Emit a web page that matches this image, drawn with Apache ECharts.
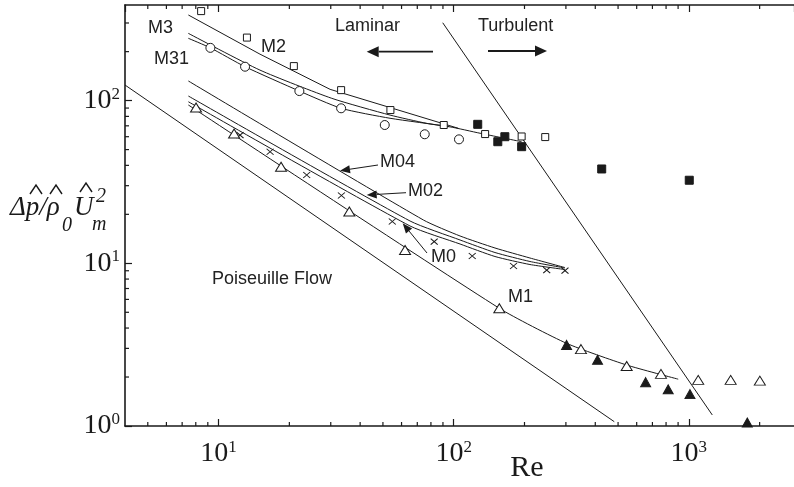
<!DOCTYPE html>
<html>
<head>
<meta charset="utf-8">
<script src="https://cdn.jsdelivr.net/npm/echarts@6/dist/echarts.min.js"></script>
<style>
html, body { margin: 0; padding: 0; background: #fff; }
#chart { width: 794px; height: 487px; }
</style>
</head>
<body>
<div id="chart"></div>
<script>
// measured points, [Re, dp/(rho U^2)]
const squaresOpen = [[8.43,355],[13.2,244],[20.9,163],[33.2,116],[53.8,87.5],[90.7,70.8],[136,62.3],[194.5,60.2],[245,59.7]];
const squaresFilled = [[126.5,71.5],[154,55.9],[165,60],[194.5,52.1],[426,38.0],[1004,32.4]];
const circlesOpen = [[9.23,211],[12.96,161.6],[22.06,114.5],[33.2,89.7],[50.9,70.8],[75.3,62.1],[105.3,57.8]];
const crosses = [[12.34,61.4],[16.56,48.5],[23.7,34.9],[33.3,26.1],[54.8,18.07],[82.6,13.58],[119.9,11.09],[179.6,9.62],[248.6,9.09],[297.3,9.01]];
const trianglesOpen = [[8.02,90.7],[11.64,62.8],[18.44,39.2],[35.98,20.8],[62.1,12.07],[156.3,5.29],[347.7,2.97],[544,2.34],[761,2.09],[1096,1.92],[1506,1.92],[2004,1.90]];
const trianglesFilled = [[302,3.15],[409,2.55],[655,1.86],[817,1.68],[1011,1.57],[1772,1.05]];

// computed curves
const upper1 = [[7.44,336],[15.0,193],[29.8,117.3],[104.6,67.6]];
const upper2 = [[7.44,259],[15.0,154],[30.3,103.3],[53.6,81.5],[76.7,72.5],[95.8,69.1]];
const upper3 = [[7.44,241.5],[9.23,211],[12.96,161.6],[22.06,114.5],[33.2,89.7],[53.6,77.9],[95.8,69.1],[129.5,63],[194.5,55.9]];
const lineM04 = [[7.44,132],[74.3,18.46],[106.4,14.72],[149.8,12.42],[211,10.78],[297,9.42]];
const lineM02 = [[7.44,106.7],[65.2,18.2],[106.4,13.91],[149.8,11.65],[211,10.26],[297,9.36]];
const lineM0 = [[7.44,98.4],[65.2,16.96],[106.4,13.14],[149.8,11.01],[211,9.83],[297,9.16]];
const lineM1 = [[7.44,94.0],[156.3,5.29],[302.3,3.22],[544,2.37],[901,1.94]];
const poiseuille = [[4,124.7],[481.7,1.063]];
const transition = [[89.8,301],[1258,1.169]];

const xMinor = [5,6,7,8,9,20,30,40,50,60,70,80,90,200,300,400,500,600,700,800,900,2000];
const yMinor = [2,3,4,5,6,7,8,9,20,30,40,50,60,70,80,90,200,300];

const ink = '#1a1a1a';
const chart = echarts.init(document.getElementById('chart'));

function powLabel(v) {
  const l = Math.log10(v);
  const e = Math.round(l);
  if (Math.abs(l - e) > 1e-6) return '';
  return '{b|10}{s|' + e + '}';
}
const labelRich = {
  b: { fontFamily: 'Liberation Serif', fontSize: 28, lineHeight: 30, color: ink },
  s: { fontFamily: 'Liberation Serif', fontSize: 17, lineHeight: 6, verticalAlign: 'top', color: ink }
};

function curve(data, smooth) {
  return { type: 'line', data: data, symbol: 'none', smooth: smooth || false,
    lineStyle: { color: ink, width: 1 }, silent: true, z: 2 };
}
function dots(data, symbol, size, fill) {
  return { type: 'scatter', data: data, symbol: symbol, symbolSize: size, silent: true, z: 3,
    itemStyle: { color: fill, borderColor: ink, borderWidth: 1, opacity: 1 } };
}
function minorTicks(values, dir) {
  return {
    type: 'custom', silent: true, z: 4,
    data: values.map(function (v) { return dir === 'x' ? [v, 1] : [4, v]; }),
    renderItem: function (params, api) {
      const cs = params.coordSys;
      const st = { stroke: ink, lineWidth: 1.2 };
      if (dir === 'x') {
        const px = api.coord([api.value(0), 1])[0];
        const b = cs.y + cs.height;
        return { type: 'group', children: [
          { type: 'line', shape: { x1: px, y1: b, x2: px, y2: b - 4 }, style: st },
          { type: 'line', shape: { x1: px, y1: cs.y, x2: px, y2: cs.y + 4 }, style: st }
        ] };
      }
      const py = api.coord([4, api.value(1)])[1];
      return { type: 'line', shape: { x1: cs.x, y1: py, x2: cs.x + 4, y2: py }, style: st };
    }
  };
}

function arrow(x1, y1, x2, y2, w, hl, hw) {
  const dx = x2 - x1, dy = y2 - y1, len = Math.hypot(dx, dy);
  const ux = dx / len, uy = dy / len;
  const bx = x2 - ux * hl, by = y2 - uy * hl;
  return [
    { type: 'line', silent: true, shape: { x1: x1, y1: y1, x2: bx, y2: by }, style: { stroke: ink, lineWidth: w } },
    { type: 'polygon', silent: true, shape: { points: [[x2, y2], [bx - uy * hw, by + ux * hw], [bx + uy * hw, by - ux * hw]] }, style: { fill: ink } }
  ];
}
function label(text, x, y) {
  return { type: 'text', silent: true, style: { text: text, x: x, y: y, fill: '#222',
    font: '18px "Liberation Sans", Arial, sans-serif', verticalAlign: 'middle', align: 'left' } };
}
function hat(cx, yb) {
  return { type: 'polyline', silent: true, shape: { points: [[cx - 6, yb], [cx, yb - 9], [cx + 6, yb]] },
    style: { stroke: ink, lineWidth: 1.4, fill: null } };
}
function ital(text, x, y, size) {
  return { type: 'text', silent: true, style: { text: text, x: x, y: y, fill: ink,
    font: 'italic ' + size + 'px "Liberation Serif", serif', verticalAlign: 'middle', align: 'left' } };
}

const graphics = [
  label('M3', 148, 28), label('M31', 154, 59), label('M2', 261, 47),
  label('Laminar', 335, 26), label('Turbulent', 478, 26),
  label('M04', 380, 162), label('M02', 408, 191), label('M0', 431, 257),
  label('M1', 508, 297), label('Poiseuille Flow', 212, 279),
  ital('\u0394p/\u03c1', 10, 208, 27), ital('0', 62, 226, 20), ital('U', 74, 208, 27),
  ital('2', 96, 197, 20), ital('m', 92, 225, 20),
  hat(36, 194), hat(56, 194), hat(86, 192),
  { type: 'text', silent: true, style: { text: 'Re', x: 527, y: 468, fill: ink,
    font: '30px "Liberation Serif", serif', verticalAlign: 'middle', align: 'center' } }
].concat(
  arrow(433, 51.7, 366.7, 51.7, 1.8, 12, 5.5),
  arrow(488, 51, 547, 51, 1.8, 12, 5.5),
  arrow(378, 165, 340, 170.7, 1, 10, 4),
  arrow(406, 192.7, 366.7, 195, 1, 10, 4),
  arrow(427, 253, 402.7, 223.3, 1, 10, 4)
);

const xCommon = { type: 'log', logBase: 10, min: 4, max: 2800, splitLine: { show: false },
  axisLine: { show: true, lineStyle: { color: ink, width: 1.6 } },
  axisTick: { show: true, inside: true, length: 7, lineStyle: { color: ink, width: 1.2 } } };

option = {
  backgroundColor: '#fff',
  animation: false,
  grid: { left: 125, right: 0, top: 5, bottom: 61 },
  xAxis: [
    Object.assign({}, xCommon, { position: 'bottom',
      axisLabel: { formatter: powLabel, rich: labelRich, margin: 13, showMinLabel: false, showMaxLabel: false } }),
    Object.assign({}, xCommon, { position: 'top', axisLabel: { show: false } })
  ],
  yAxis: {
    type: 'log', logBase: 10, min: 1, max: 387, splitLine: { show: false },
    axisLine: { show: true, lineStyle: { color: ink, width: 1.6 } },
    axisTick: { show: true, inside: true, length: 7, lineStyle: { color: ink, width: 1.2 } },
    axisLabel: { formatter: powLabel, rich: labelRich, margin: 5, showMaxLabel: false }
  },
  series: [
    curve(poiseuille), curve(transition),
    curve(upper1), curve(upper2, 0.2), curve(upper3, 0.2),
    curve(lineM04, 0.2), curve(lineM02, 0.2), curve(lineM0, 0.2), curve(lineM1, 0.2),
    dots(squaresOpen, 'rect', 7, '#fff'),
    dots(squaresFilled, 'rect', 8, ink),
    dots(circlesOpen, 'circle', 9, '#fff'),
    dots(crosses, 'path://M0,0L10,10M10,0L0,10', [7, 6], 'rgba(0,0,0,0)'),
    dots(trianglesOpen, 'triangle', [11, 9], '#fff'),
    dots(trianglesFilled, 'triangle', [10, 9], ink),
    minorTicks(xMinor, 'x'), minorTicks(yMinor, 'y')
  ],
  graphic: graphics
};

chart.setOption(option);
window.onresize = function () { chart.resize(); };
</script>
</body>
</html>
